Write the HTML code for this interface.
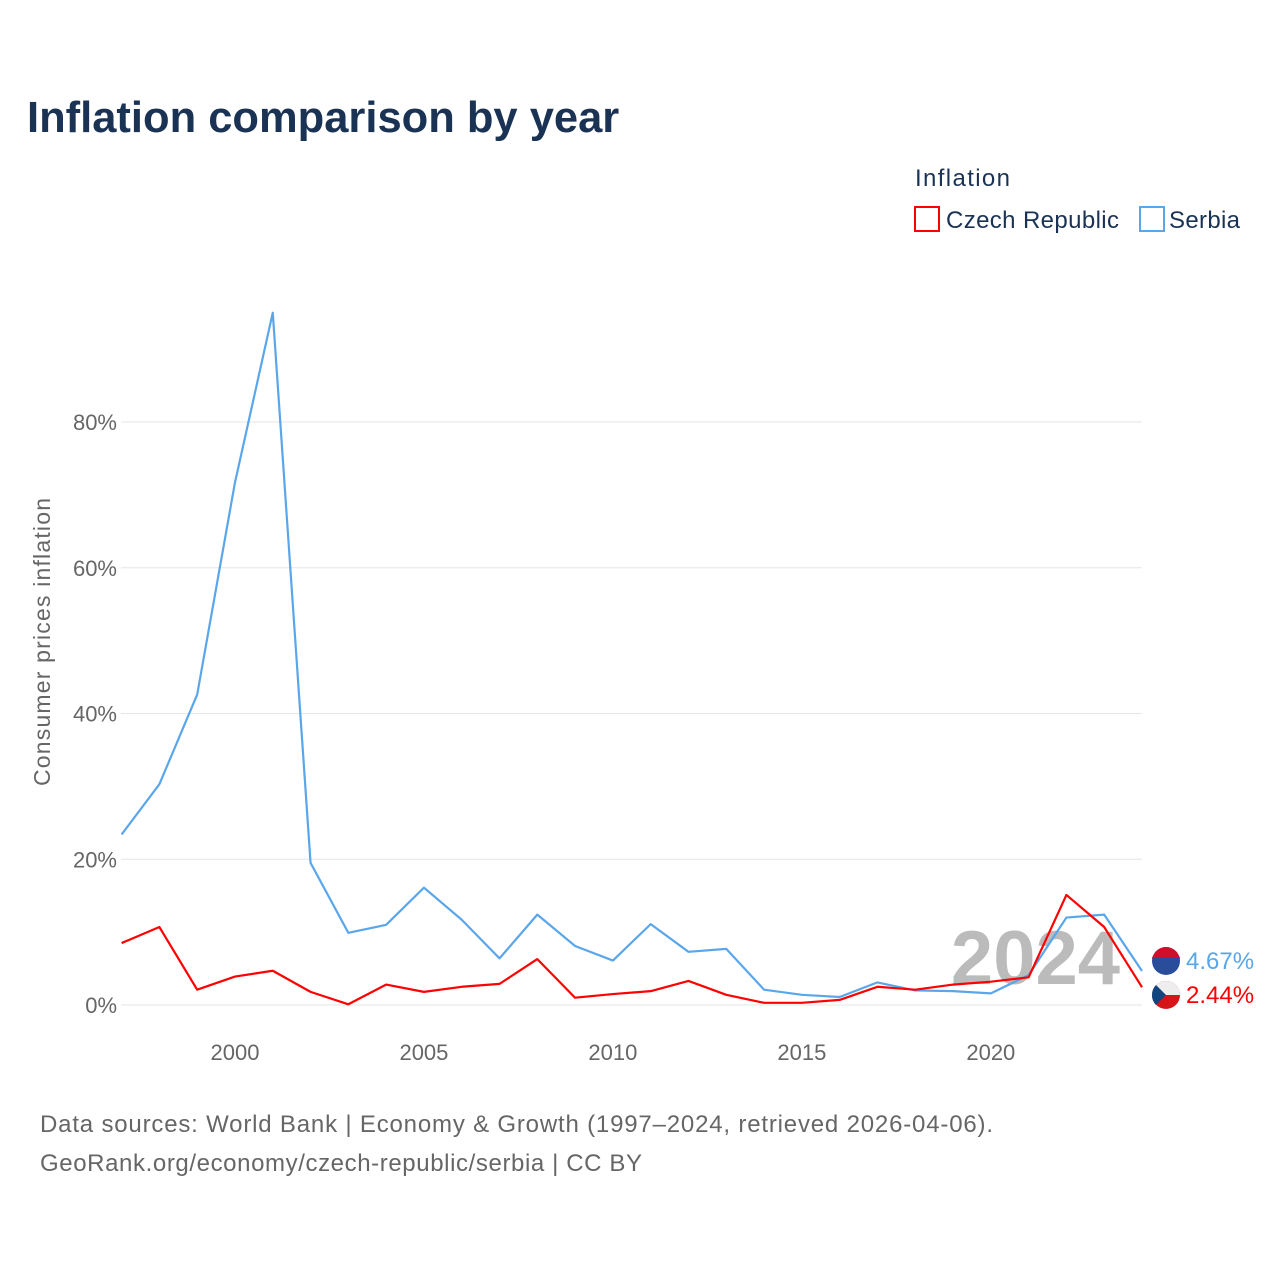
<!DOCTYPE html>
<html><head><meta charset="utf-8"><style>
body{margin:0;background:#fff;font-family:"Liberation Sans",sans-serif}
svg text{font-family:"Liberation Sans",sans-serif}
</style></head><body>
<svg id="c" width="1280" height="1280" xmlns="http://www.w3.org/2000/svg">
<text x="27" y="132" font-size="43.5" font-weight="bold" fill="#1a3355">Inflation comparison by year</text>
<text x="915" y="186" font-size="24" fill="#1a3355" textLength="95">Inflation</text>
<g><rect x="915" y="207" width="24" height="24" fill="none" stroke="#ff0000" stroke-width="2"/><text x="946" y="228" font-size="24" fill="#1a3355" textLength="173">Czech Republic</text></g>
<g><rect x="1140" y="207" width="24" height="24" fill="none" stroke="#5aa6ea" stroke-width="2"/><text x="1169" y="228" font-size="24" fill="#1a3355" textLength="71">Serbia</text></g>
<text transform="translate(50,642) rotate(-90)" text-anchor="middle" font-size="23" fill="#666" textLength="288">Consumer prices inflation</text>
<g id="grid"></g><g id="xt"></g>
<text x="1120" y="984" text-anchor="end" font-size="76" font-weight="bold" fill="#bbb">2024</text>
<g id="lines"></g>
<circle cx="1166" cy="961" r="14" fill="#2a4d9b"/>
<path d="M1152,961 A14,14 0 0 1 1180,961 L1180,957 L1152,957Z" fill="#d0102b"/>
<circle cx="1166" cy="995" r="14" fill="#d7141a"/>
<path d="M1152,995 A14,14 0 0 1 1180,995Z" fill="#eee"/><path d="M1152,995 A14,14 0 0 0 1156,1005 L1166,995 L1156,985 A14,14 0 0 0 1152,995Z" fill="#11457e"/>
<text x="1186" y="969" font-size="24" fill="#5aa6ea">4.67%</text>
<text x="1186" y="1003" font-size="24" fill="#ff0000">2.44%</text>
<text x="40" y="1132" font-size="24" fill="#666" textLength="953">Data sources: World Bank | Economy &amp; Growth (1997–2024, retrieved 2026-04-06).</text>
<text x="40" y="1171" font-size="24" fill="#666" textLength="602">GeoRank.org/economy/czech-republic/serbia | CC BY</text>
</svg>
<script>
const years=[1997,1998,1999,2000,2001,2002,2003,2004,2005,2006,2007,2008,2009,2010,2011,2012,2013,2014,2015,2016,2017,2018,2019,2020,2021,2022,2023,2024];
const serbia=[23.4,30.3,42.6,71.7,95,19.5,9.9,11.0,16.1,11.7,6.4,12.4,8.1,6.1,11.1,7.3,7.7,2.1,1.4,1.1,3.1,2.0,1.9,1.6,4.1,12.0,12.4,4.67];
const czech=[8.5,10.7,2.1,3.9,4.7,1.8,0.1,2.8,1.8,2.5,2.9,6.3,1.0,1.5,1.9,3.3,1.4,0.3,0.3,0.7,2.5,2.1,2.8,3.2,3.8,15.1,10.7,2.44];
const yTicks=[0,20,40,60,80];
const xTicks=[2000,2005,2010,2015,2020];
const NS="http://www.w3.org/2000/svg";
const x=v=>121.6+(v-1997)*(1142-121.6)/27;
const y=v=>1005-v*7.2875;
function mk(t,a,p){const e=document.createElementNS(NS,t);for(const k in a)e.setAttribute(k,a[k]);p.appendChild(e);return e;}
const g=document.getElementById('grid');
yTicks.forEach(t=>{
 const l=mk('line',{x1:121,x2:1142,y1:y(t),y2:y(t),stroke:'#e6e6e6','stroke-width':1},g);
 
 
 const tx=mk('text',{x:117,y:y(t)+8,'text-anchor':'end','font-size':22,fill:'#666'},g);
 tx.textContent=t+'%';
 
 
});
const xt=document.getElementById('xt');
xTicks.forEach(t=>{
 const tx=mk('text',{x:x(t),y:1060,'text-anchor':'middle','font-size':22,fill:'#666'},xt);
 tx.textContent=t;
 
 
});
const L=document.getElementById('lines');
[[serbia,'#5aa6ea','serbia-line'],[czech,'#ff0000','czech-line']].forEach(([d,c,n])=>{
 const p=mk('polyline',{points:d.map((v,i)=>x(years[i])+','+y(v)).join(' '),fill:'none',stroke:c,'stroke-width':2.2,'stroke-linejoin':'round'},L);
 
 
});
</script>
</body></html>
